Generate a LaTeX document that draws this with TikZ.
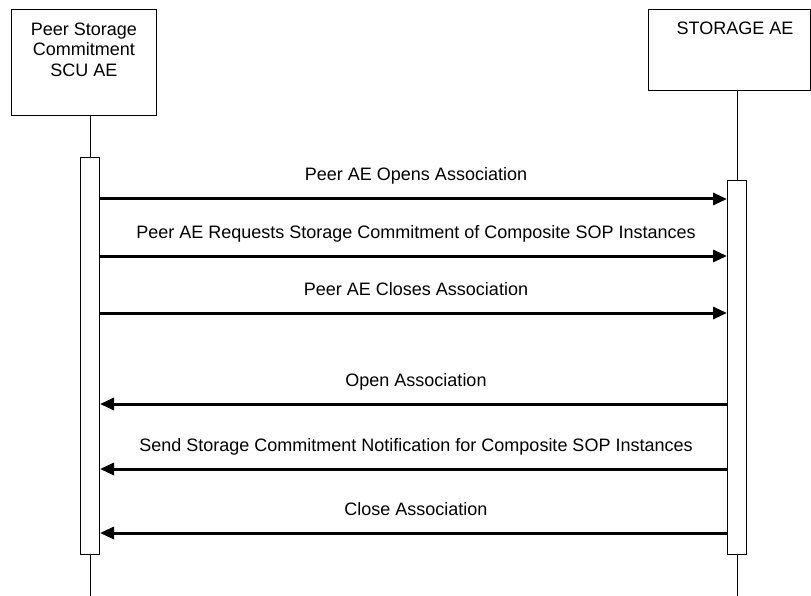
\documentclass[tikz,border=0pt]{standalone}
\usepackage{fontspec}
\setmainfont{Liberation Sans}
\usetikzlibrary{arrows.meta}
\begin{document}
\begin{tikzpicture}[x=1pt,y=-1pt,
  hdr/.style={draw,line width=1pt,minimum width=#1,minimum height=106pt,inner sep=0pt},
  act/.style={draw,line width=1pt,fill=white,minimum width=19pt,inner sep=0pt},
  life/.style={line width=1pt},
  msg/.style={line width=3pt,-{Triangle[length=14pt,width=12pt]}},
  lbl/.style={font=\fontsize{18}{20.5}\selectfont,inner sep=0pt,anchor=base}]
\useasboundingbox (0,0) rectangle (811,596);
% headers
\node[hdr=145pt,anchor=north west] (A) at (11,9) {};
\node[lbl,align=center,anchor=base] (At) at (84,76.5) {Peer Storage\\Commitment\\SCU AE};
\node[hdr=162pt,anchor=north west,minimum height=81pt] (B) at (648,9) {};
\node[lbl] (Bt) at (735,35) {STORAGE AE};
% lifelines
\coordinate (Aend) at (90,596);
\coordinate (Bend) at (737,596);
\draw[life] (A.south -| Aend) -- (Aend);
\draw[life] (B.south -| Bend) -- (Bend);
% activations
\node[act,anchor=north,minimum height=397pt] (Aa) at (90,157) {};
\node[act,anchor=north,minimum height=374pt] (Ba) at (737,180) {};
% messages
\foreach \y/\t [count=\i] in {199/Peer AE Opens Association,256/Peer AE Requests Storage Commitment of Composite SOP Instances,313/Peer AE Closes Association}{
  \coordinate (s\i) at (Aa.east |- 0,\y);
  \coordinate (e\i) at (Ba.west |- 0,\y);
  \draw[msg] (s\i) -- (e\i);
  \node[lbl] (l\i) at (416,\y-18) {\t};
}
\foreach \y/\t [count=\i from 4] in {404/Open Association,469/Send Storage Commitment Notification for Composite SOP Instances,533/Close Association}{
  \coordinate (s\i) at (Ba.west |- 0,\y);
  \coordinate (e\i) at (Aa.east |- 0,\y);
  \draw[msg] (s\i) -- (e\i);
  \node[lbl] (l\i) at (416,\y-18) {\t};
}
\end{tikzpicture}
\end{document}
